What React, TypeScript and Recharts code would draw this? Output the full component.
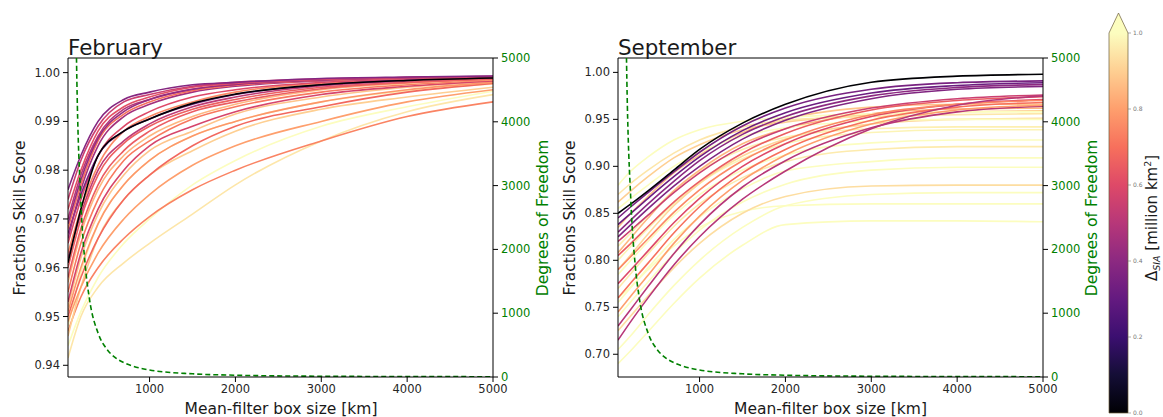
import { LineChart, Line, XAxis, YAxis, ReferenceLine } from "recharts";

// shared filter box sizes [km] for the FSS curves
const X_KM = [50, 200, 400, 700, 1000, 1500, 2000, 3000, 4000, 5000];

// degrees of freedom vs box size (dashed green, right axis)
const DOF_KM = [50, 100, 150, 200, 250, 300, 400, 500, 600, 700, 800, 1000, 1500, 2000, 3000, 4000, 5000];
const DOF = [44000, 11000, 4900, 2750, 1760, 1220, 690, 440, 305, 225, 172, 110, 50, 28, 12, 7, 4.5];

// February: colour value (Δ_SIA) per curve, then FSS per curve at X_KM
const FEB_DELTA = [0.95, 1.0, 0.74, 0.9, 0.97, 0.8, 0.68, 0.88, 0.78, 0.58, 0.72, 0.85, 0.65, 0.66, 0.52, 0.75, 0.6, 0.35, 0.45, 0.7, 0.5, 0.42, 0.62, 0.55, 0.38, 0.0];
const FEB_FSS = [
  [0.9415, 0.950, 0.956, 0.961, 0.965, 0.971, 0.977, 0.986, 0.992, 0.9955],
  [0.944, 0.951, 0.958, 0.965, 0.970, 0.977, 0.982, 0.989, 0.993, 0.9962],
  [0.947, 0.954, 0.960, 0.966, 0.9705, 0.976, 0.980, 0.986, 0.991, 0.994],
  [0.946, 0.956, 0.966, 0.974, 0.979, 0.984, 0.988, 0.9925, 0.995, 0.997],
  [0.948, 0.959, 0.969, 0.977, 0.982, 0.987, 0.990, 0.994, 0.9963, 0.9977],
  [0.949, 0.956, 0.963, 0.970, 0.975, 0.981, 0.985, 0.990, 0.994, 0.9965],
  [0.950, 0.958, 0.966, 0.974, 0.979, 0.985, 0.989, 0.993, 0.996, 0.9978],
  [0.952, 0.962, 0.971, 0.979, 0.984, 0.988, 0.9915, 0.995, 0.997, 0.9982],
  [0.951, 0.960, 0.969, 0.977, 0.982, 0.987, 0.990, 0.994, 0.9965, 0.998],
  [0.953, 0.963, 0.972, 0.980, 0.985, 0.989, 0.992, 0.9955, 0.9972, 0.9983],
  [0.955, 0.965, 0.974, 0.982, 0.986, 0.9905, 0.993, 0.996, 0.9975, 0.9985],
  [0.957, 0.967, 0.976, 0.983, 0.987, 0.991, 0.9935, 0.9965, 0.9978, 0.9986],
  [0.958, 0.968, 0.977, 0.984, 0.988, 0.992, 0.994, 0.9967, 0.998, 0.9987],
  [0.960, 0.970, 0.979, 0.9855, 0.989, 0.9925, 0.9945, 0.997, 0.998, 0.9987],
  [0.962, 0.971, 0.980, 0.986, 0.9895, 0.993, 0.995, 0.9973, 0.9983, 0.9989],
  [0.963, 0.972, 0.981, 0.988, 0.991, 0.994, 0.996, 0.9978, 0.9985, 0.9989],
  [0.965, 0.974, 0.983, 0.989, 0.992, 0.995, 0.9965, 0.998, 0.9986, 0.999],
  [0.967, 0.975, 0.983, 0.988, 0.9905, 0.9935, 0.9955, 0.9975, 0.9985, 0.999],
  [0.966, 0.976, 0.985, 0.991, 0.9935, 0.996, 0.9972, 0.9983, 0.9988, 0.999],
  [0.968, 0.977, 0.986, 0.9915, 0.994, 0.9963, 0.9974, 0.9984, 0.9988, 0.9991],
  [0.970, 0.979, 0.987, 0.9925, 0.9945, 0.9966, 0.9976, 0.9985, 0.9989, 0.9991],
  [0.969, 0.978, 0.9865, 0.992, 0.9945, 0.9966, 0.9976, 0.9985, 0.999, 0.9992],
  [0.972, 0.980, 0.988, 0.993, 0.995, 0.997, 0.9978, 0.9986, 0.999, 0.9992],
  [0.974, 0.982, 0.989, 0.994, 0.9955, 0.9972, 0.998, 0.9987, 0.999, 0.9992],
  [0.976, 0.983, 0.990, 0.9945, 0.996, 0.9975, 0.998, 0.9988, 0.9991, 0.9993],
  [0.961, 0.972, 0.983, 0.988, 0.9905, 0.9937, 0.9956, 0.9975, 0.9984, 0.9989],
];

// September: same layout as February
const SEP_DELTA = [1.0, 1.0, 1.0, 0.93, 1.0, 1.0, 0.96, 1.0, 0.98, 0.92, 0.97, 0.85, 0.88, 1.0, 0.9, 0.95, 1.0, 0.5, 0.8, 0.7, 0.6, 0.75, 0.65, 0.55, 0.5, 0.37, 0.4, 0.32, 0.35, 0.0];
const SEP_FSS = [
  [0.690, 0.704, 0.724, 0.754, 0.781, 0.816, 0.838, 0.842, 0.842, 0.841],
  [0.760, 0.772, 0.790, 0.815, 0.835, 0.852, 0.858, 0.860, 0.860, 0.860],
  [0.705, 0.720, 0.742, 0.773, 0.800, 0.835, 0.858, 0.870, 0.872, 0.872],
  [0.725, 0.741, 0.762, 0.792, 0.818, 0.850, 0.868, 0.879, 0.880, 0.880],
  [0.740, 0.756, 0.777, 0.807, 0.832, 0.862, 0.881, 0.896, 0.899, 0.899],
  [0.755, 0.771, 0.792, 0.822, 0.846, 0.876, 0.895, 0.905, 0.909, 0.909],
  [0.770, 0.786, 0.807, 0.836, 0.860, 0.888, 0.905, 0.918, 0.921, 0.921],
  [0.785, 0.800, 0.820, 0.848, 0.870, 0.896, 0.912, 0.925, 0.928, 0.928],
  [0.800, 0.815, 0.834, 0.860, 0.882, 0.908, 0.924, 0.936, 0.939, 0.939],
  [0.790, 0.806, 0.828, 0.858, 0.882, 0.911, 0.929, 0.945, 0.950, 0.951],
  [0.815, 0.829, 0.848, 0.874, 0.895, 0.918, 0.931, 0.940, 0.942, 0.942],
  [0.808, 0.824, 0.845, 0.874, 0.896, 0.924, 0.940, 0.956, 0.961, 0.962],
  [0.835, 0.850, 0.868, 0.893, 0.912, 0.936, 0.950, 0.963, 0.966, 0.966],
  [0.855, 0.866, 0.880, 0.900, 0.915, 0.932, 0.941, 0.948, 0.950, 0.950],
  [0.862, 0.874, 0.889, 0.909, 0.923, 0.939, 0.947, 0.955, 0.958, 0.959],
  [0.870, 0.882, 0.896, 0.914, 0.928, 0.942, 0.949, 0.953, 0.955, 0.956],
  [0.880, 0.895, 0.910, 0.928, 0.939, 0.948, 0.952, 0.956, 0.958, 0.958],
  [0.730, 0.748, 0.772, 0.807, 0.838, 0.878, 0.906, 0.941, 0.958, 0.964],
  [0.745, 0.762, 0.784, 0.818, 0.847, 0.885, 0.912, 0.945, 0.960, 0.965],
  [0.760, 0.776, 0.797, 0.829, 0.857, 0.893, 0.918, 0.949, 0.963, 0.968],
  [0.775, 0.790, 0.810, 0.840, 0.866, 0.900, 0.924, 0.953, 0.966, 0.971],
  [0.790, 0.804, 0.823, 0.851, 0.875, 0.906, 0.928, 0.955, 0.966, 0.970],
  [0.805, 0.818, 0.836, 0.862, 0.884, 0.914, 0.935, 0.960, 0.970, 0.974],
  [0.820, 0.832, 0.848, 0.872, 0.893, 0.921, 0.940, 0.962, 0.972, 0.976],
  [0.715, 0.735, 0.760, 0.795, 0.825, 0.865, 0.895, 0.940, 0.965, 0.975],
  [0.825, 0.838, 0.855, 0.879, 0.900, 0.929, 0.949, 0.972, 0.982, 0.985],
  [0.830, 0.843, 0.860, 0.884, 0.906, 0.934, 0.953, 0.975, 0.984, 0.987],
  [0.838, 0.850, 0.866, 0.889, 0.910, 0.938, 0.957, 0.978, 0.986, 0.989],
  [0.845, 0.857, 0.872, 0.894, 0.915, 0.943, 0.962, 0.982, 0.989, 0.991],
  [0.850, 0.860, 0.874, 0.896, 0.918, 0.946, 0.966, 0.9895, 0.996, 0.998],
];

const X_TICKS = [1000, 2000, 3000, 4000, 5000];
const DOF_TICKS = [0, 1000, 2000, 3000, 4000, 5000];
const FEB_TICKS = [0.94, 0.95, 0.96, 0.97, 0.98, 0.99, 1.0];
const SEP_TICKS = [0.7, 0.75, 0.8, 0.85, 0.9, 0.95, 1.0];
const CBAR_TICKS = [0, 0.2, 0.4, 0.6, 0.8, 1.0];

// magma colormap, 11 stops
const MAGMA = ["#000004", "#140e36", "#3b0f70", "#641a80", "#8c2981", "#b73779", "#de4968", "#f7705c", "#fe9f6d", "#fecf92", "#fcfdbf"];

function magma(t: number) {
  const v = Math.max(0, Math.min(1, t)) * 10;
  const i = Math.min(9, Math.floor(v));
  const f = v - i;
  const a = MAGMA[i], b = MAGMA[i + 1];
  const ch = (s: string, k: number) => parseInt(s.slice(1 + 2 * k, 3 + 2 * k), 16);
  const c = [0, 1, 2].map(k => Math.round(ch(a, k) + (ch(b, k) - ch(a, k)) * f));
  return `rgb(${c[0]},${c[1]},${c[2]})`;
}

function buildRows(fss: number[][]) {
  return DOF_KM.map((x, i) => {
    const row: any = { x, dof: DOF[i] };
    const j = X_KM.indexOf(x);
    if (j >= 0) fss.forEach((c, k) => { row[`c${k}`] = c[j]; });
    return row;
  });
}

const FONT = "DejaVu Sans, sans-serif";
const GREEN = "#008000";
const tickStyle = { fontSize: 11.5, fill: "#262626" };

interface PanelProps {
  left: number;
  delta: number[];
  fss: number[][];
  yDomain: [number, number];
  yTicks: number[];
}

function Panel({ left, delta, fss, yDomain, yTicks }: PanelProps) {
  const data = buildRows(fss);
  return (
    <div style={{ position: "absolute", left, top: 0 }}>
      <LineChart width={560} height={417} data={data} margin={{ top: 58, right: 17, bottom: 10, left: 18 }}>
        <XAxis
          dataKey="x"
          type="number"
          domain={[50, 5000]}
          ticks={X_TICKS}
          allowDataOverflow
          height={30}
          tick={tickStyle}
          tickSize={5}
          tickMargin={3}
          axisLine={{ stroke: "#000" }}
          tickLine={{ stroke: "#000" }}
        />
        <YAxis
          yAxisId="left"
          type="number"
          domain={yDomain}
          ticks={yTicks}
          allowDataOverflow
          width={50}
          tick={tickStyle}
          tickSize={5}
          tickMargin={3}
          tickFormatter={v => v.toFixed(2)}
          axisLine={{ stroke: "#000" }}
          tickLine={{ stroke: "#000" }}
        />
        <YAxis
          yAxisId="right"
          orientation="right"
          type="number"
          domain={[0, 5000]}
          ticks={DOF_TICKS}
          allowDataOverflow
          width={50}
          tick={{ fontSize: 11.5, fill: GREEN }}
          tickSize={5}
          tickMargin={3}
          axisLine={{ stroke: "#000" }}
          tickLine={{ stroke: "#000" }}
        />
        <ReferenceLine yAxisId="left" y={yDomain[1]} stroke="#000" strokeWidth={1} />
        {fss.map((_, k) => (
          <Line
            key={k}
            yAxisId="left"
            dataKey={`c${k}`}
            type="monotone"
            stroke={magma(delta[k])}
            strokeWidth={1.6}
            dot={false}
            connectNulls
            isAnimationActive={false}
          />
        ))}
        <Line
          yAxisId="right"
          dataKey="dof"
          type="monotone"
          stroke={GREEN}
          strokeWidth={1.6}
          strokeDasharray="5 3"
          dot={false}
          isAnimationActive={false}
        />
      </LineChart>
    </div>
  );
}

function Texts() {
  const axisLabel = { fontSize: 15.5, fill: "#1a1a1a" };
  return (
    <svg width={1163} height={417} style={{ position: "absolute", left: 0, top: 0, pointerEvents: "none" }}>
      <text x={68} y={55} fontSize={21.4} fill="#1a1a1a">February</text>
      <text x={618} y={55} fontSize={21.4} fill="#1a1a1a">September</text>
      <text x={281} y={414} textAnchor="middle" {...axisLabel}>Mean-filter box size [km]</text>
      <text x={830.5} y={414} textAnchor="middle" {...axisLabel}>Mean-filter box size [km]</text>
      <text transform="translate(25,218) rotate(-90)" textAnchor="middle" {...axisLabel}>Fractions Skill Score</text>
      <text transform="translate(575,218) rotate(-90)" textAnchor="middle" {...axisLabel}>Fractions Skill Score</text>
      <text transform="translate(548,218) rotate(-90)" textAnchor="middle" fontSize={15.5} fill={GREEN}>Degrees of Freedom</text>
      <text transform="translate(1097,218) rotate(-90)" textAnchor="middle" fontSize={15.5} fill={GREEN}>Degrees of Freedom</text>
    </svg>
  );
}

function Colorbar() {
  const x0 = 1109, x1 = 1128, yTop = 33, yBot = 413;
  const yOf = (v: number) => yBot - v * (yBot - yTop);
  return (
    <svg width={1163} height={417} style={{ position: "absolute", left: 0, top: 0 }}>
      <defs>
        <linearGradient id="magma" x1="0" y1="1" x2="0" y2="0">
          {MAGMA.map((c, i) => <stop key={i} offset={i / 10} stopColor={c} />)}
        </linearGradient>
      </defs>
      <rect x={x0} y={yTop} width={x1 - x0} height={yBot - yTop} fill="url(#magma)" />
      <polygon points={`${x0},${yTop} ${(x0 + x1) / 2},13 ${x1},${yTop}`} fill={MAGMA[10]} />
      <polyline
        points={`${x0},${yBot} ${x0},${yTop} ${(x0 + x1) / 2},13 ${x1},${yTop} ${x1},${yBot} ${x0},${yBot}`}
        fill="none"
        stroke="#6b5b3b"
        strokeWidth={0.7}
      />
      {CBAR_TICKS.map(v => (
        <g key={v}>
          <line x1={x1} x2={x1 + 3} y1={yOf(v)} y2={yOf(v)} stroke="#777" strokeWidth={0.6} />
          <text x={x1 + 5} y={yOf(v) + 2} fontSize={6} fill="#777">{v.toFixed(1)}</text>
        </g>
      ))}
      <text transform="translate(1157,218) rotate(-90)" textAnchor="middle" fontSize={15} fill="#1a1a1a">
        Δ<tspan fontSize={9.5} fontStyle="italic" dy={2.5}>SIA</tspan>
        <tspan dy={-2.5}> [million km</tspan>
        <tspan fontSize={9.5} dy={-6}>2</tspan>
        <tspan dy={6}>]</tspan>
      </text>
    </svg>
  );
}

export default function App() {
  return (
    <div style={{ position: "absolute", left: 0, top: 0, width: 1163, height: 417, background: "#fff", fontFamily: FONT, overflow: "hidden" }}>
      <Panel left={0} delta={FEB_DELTA} fss={FEB_FSS} yDomain={[0.9376, 1.003]} yTicks={FEB_TICKS} />
      <Panel left={550} delta={SEP_DELTA} fss={SEP_FSS} yDomain={[0.6758, 1.0153]} yTicks={SEP_TICKS} />
      <Texts />
      <Colorbar />
    </div>
  );
}
